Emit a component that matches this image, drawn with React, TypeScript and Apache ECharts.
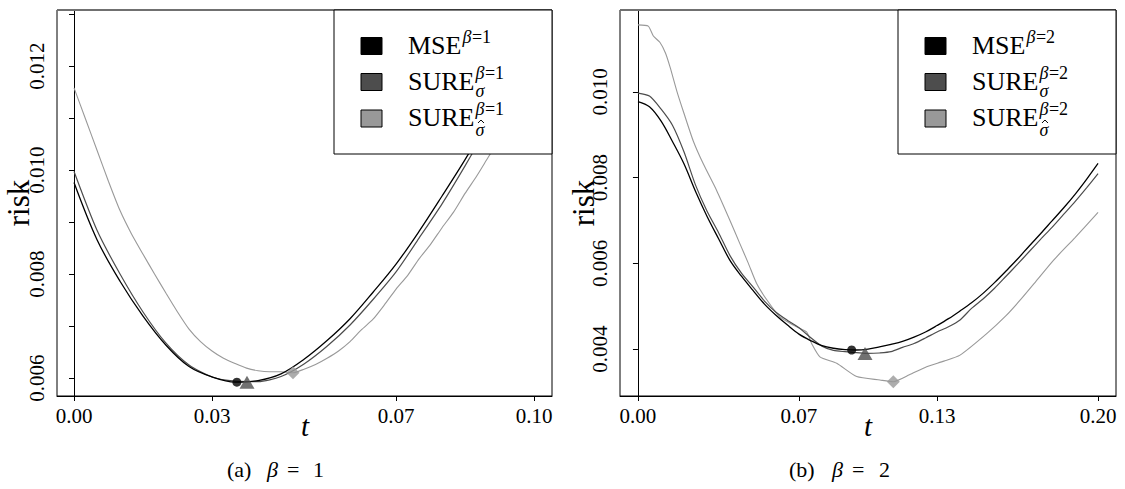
import React, { useEffect, useRef } from "react";
import * as echarts from "echarts";

// ---------- Panel (a): beta = 1 ----------
const T_A = [0, 0.005, 0.01, 0.015, 0.02, 0.025, 0.03, 0.035, 0.04, 0.045, 0.05, 0.055, 0.06, 0.065, 0.07, 0.075, 0.08, 0.085, 0.09, 0.095, 0.1];
const MSE_A = [0.00976, 0.00866, 0.00786, 0.00719, 0.00663, 0.00622, 0.00602, 0.00592, 0.00595, 0.00608, 0.00636, 0.00672, 0.00714, 0.00765, 0.00819, 0.00882, 0.0095, 0.0102, 0.01095, 0.01175, 0.01258];
const SURE_A = [0.00997, 0.00884, 0.008, 0.00727, 0.00667, 0.00625, 0.00602, 0.00594, 0.00593, 0.00603, 0.00627, 0.00661, 0.00702, 0.00751, 0.00804, 0.00869, 0.00935, 0.01008, 0.01085, 0.01165, 0.01248];
const T_HAT_A = [0, 0.0025, 0.005, 0.0075, 0.01, 0.0125, 0.015, 0.0175, 0.02, 0.0225, 0.025, 0.0275, 0.03, 0.0325, 0.035, 0.0375, 0.04, 0.0425, 0.045, 0.0476, 0.05, 0.0525, 0.055, 0.0575, 0.06, 0.0625, 0.065, 0.0675, 0.07, 0.0725, 0.075, 0.0775, 0.08, 0.0825, 0.085, 0.0875, 0.09, 0.095, 0.1];
const SURE_HAT_A = [0.01158, 0.01098, 0.01038, 0.00978, 0.00922, 0.00877, 0.00838, 0.008, 0.00763, 0.00727, 0.00694, 0.0067, 0.00652, 0.00638, 0.00628, 0.00619, 0.00614, 0.00612, 0.00612, 0.0061, 0.00617, 0.00626, 0.00638, 0.00652, 0.0067, 0.00693, 0.00713, 0.00741, 0.00771, 0.00797, 0.00829, 0.00857, 0.00889, 0.00919, 0.00955, 0.00988, 0.01024, 0.01095, 0.0117];
const MIN_A = { mse: [0.0354, 0.00592], sure: [0.0376, 0.00592], hat: [0.0476, 0.0061] };
const XTICKS_A = [0, 0.03, 0.07, 0.1];
const YTICKS_A = [0.006, 0.007, 0.008, 0.009, 0.01, 0.011, 0.012, 0.013];
const YLABELS_A = [0.006, 0.008, 0.01, 0.012];

// ---------- Panel (b): beta = 2 ----------
const T_B = [0, 0.005, 0.01, 0.015, 0.02, 0.025, 0.03, 0.035, 0.04, 0.045, 0.05, 0.055, 0.06, 0.065, 0.07, 0.075, 0.08, 0.085, 0.09, 0.095, 0.1, 0.105, 0.11, 0.115, 0.12, 0.125, 0.13, 0.135, 0.14, 0.145, 0.15, 0.155, 0.16, 0.165, 0.17, 0.175, 0.18, 0.185, 0.19, 0.195, 0.2];
const MSE_B = [0.00977, 0.00965, 0.00932, 0.00884, 0.00832, 0.00768, 0.0071, 0.00658, 0.00607, 0.0057, 0.00537, 0.00505, 0.00479, 0.00456, 0.00435, 0.0042, 0.00408, 0.00402, 0.00399, 0.00398, 0.004, 0.00405, 0.00411, 0.00418, 0.00428, 0.0044, 0.00455, 0.00471, 0.00489, 0.00508, 0.0053, 0.00555, 0.00582, 0.0061, 0.0064, 0.00669, 0.00699, 0.00729, 0.00761, 0.00796, 0.00833];
const SURE_B = [0.00997, 0.0099, 0.0096, 0.00922, 0.0086, 0.00783, 0.00722, 0.00672, 0.00618, 0.00577, 0.00545, 0.00512, 0.00486, 0.00467, 0.0045, 0.00427, 0.00407, 0.00397, 0.00394, 0.00392, 0.0039, 0.00391, 0.00394, 0.00404, 0.00413, 0.00426, 0.0044, 0.00452, 0.00468, 0.00495, 0.00517, 0.00542, 0.0057, 0.00598, 0.00627, 0.00656, 0.00684, 0.00714, 0.00744, 0.00776, 0.00809];
const T_HAT_B = [0, 0.0045, 0.0067, 0.0096, 0.012, 0.014, 0.017, 0.02, 0.024, 0.0284, 0.0342, 0.04, 0.0443, 0.048, 0.0516, 0.056, 0.0617, 0.0675, 0.0733, 0.0755, 0.0791, 0.0864, 0.0951, 0.1052, 0.111, 0.118, 0.1255, 0.133, 0.14, 0.1516, 0.16, 0.1661, 0.173, 0.1806, 0.19, 0.2];
const SURE_HAT_B = [0.01156, 0.01153, 0.0113, 0.01115, 0.0109, 0.01057, 0.01, 0.0095, 0.00886, 0.00832, 0.0077, 0.007, 0.00646, 0.006, 0.00553, 0.00515, 0.00475, 0.00456, 0.0044, 0.00413, 0.00382, 0.00367, 0.00336, 0.00328, 0.00324, 0.0034, 0.00359, 0.00372, 0.00386, 0.00436, 0.00478, 0.00514, 0.00558, 0.00607, 0.0066, 0.00719];
const MIN_B = { mse: [0.0929, 0.00398], sure: [0.0987, 0.0039], hat: [0.111, 0.00324] };
const XTICKS_B = [0, 0.07, 0.13, 0.2];
const YTICKS_B = [0.004, 0.006, 0.008, 0.01];
const YLABELS_B = [0.004, 0.006, 0.008, 0.01];

const COLORS = { mse: "#000000", sure: "#4d4d4d", hat: "#999999" };
const FONT = '"Liberation Serif", "DejaVu Serif", serif';

const zip = (t: number[], v: number[]) => t.map((x, i) => [x, v[i]]);

function measure(text: string, font: string): number {
  const c = document.createElement("canvas").getContext("2d");
  if (!c) return text.length * 12;
  c.font = font;
  return c.measureText(text).width;
}

function txt(x: number, y: number, text: string, size: number, extra: any = {}, rot = 0) {
  return {
    type: "text", z: 101, x, y, rotation: rot,
    style: { text, fontFamily: FONT, fontSize: size, fill: "#000", align: "left", verticalAlign: "middle", ...extra },
  };
}

function legendElements(x0: number, x1: number, beta: string) {
  const els: any[] = [];
  els.push({
    type: "rect", z: 100,
    shape: { x: x0, y: 10, width: x1 - x0, height: 144 },
    style: { fill: "#fff", stroke: "#000", lineWidth: 1 },
  });
  const rows = [
    { name: "MSE", color: COLORS.mse, cy: 46, sub: 0 },
    { name: "SURE", color: COLORS.sure, cy: 82, sub: 1 },
    { name: "SURE", color: COLORS.hat, cy: 118.5, sub: 2 },
  ];
  const SS = 18;
  const betaW = measure("β", `italic ${SS}px ${FONT}`);
  rows.forEach((r) => {
    els.push({
      type: "rect", z: 101,
      shape: { x: x0 + 27, y: r.cy - 8.5, width: 21, height: 17 },
      style: { fill: r.color, stroke: "#000", lineWidth: 1 },
    });
    const tx = x0 + 74;
    els.push(txt(tx, r.cy - 1, r.name, 26));
    const w = measure(r.name, `26px ${FONT}`);
    const sx = tx + w + 1;
    els.push(txt(sx, r.cy - 9.5, "β", SS, { fontStyle: "italic" }));
    els.push(txt(sx + betaW + 0.5, r.cy - 9.5, "=" + beta, SS));
    if (r.sub) {
      const sy = r.cy + (r.sub === 1 ? 8.5 : 11);
      els.push(txt(sx, sy, "σ", SS, { fontStyle: "italic" }));
      if (r.sub === 2) {
        els.push({
          type: "polyline", z: 101,
          shape: { points: [[sx + 2.5, sy - 6.5], [sx + 5.5, sy - 9.5], [sx + 8.5, sy - 6.5]] },
          style: { stroke: "#000", lineWidth: 1, fill: "none" },
        });
      }
    }
  });
  return els;
}

function panel(idx: number, mse: number[][], sure: number[][], hat: number[][], mins: any) {
  return [
    { type: "line", xAxisIndex: idx, yAxisIndex: idx, data: mse, showSymbol: false, smooth: 0.35, lineStyle: { color: COLORS.mse, width: 1.3 }, z: 4 },
    { type: "line", xAxisIndex: idx, yAxisIndex: idx, data: sure, showSymbol: false, smooth: 0.25, lineStyle: { color: COLORS.sure, width: 1.2 }, z: 3 },
    { type: "line", xAxisIndex: idx, yAxisIndex: idx, data: hat, showSymbol: false, smooth: 0.2, lineStyle: { color: COLORS.hat, width: 1.1 }, z: 2 },
    { type: "scatter", xAxisIndex: idx, yAxisIndex: idx, data: [mins.hat], symbol: "diamond", symbolSize: [13, 13], itemStyle: { color: COLORS.hat }, z: 5 },
    { type: "scatter", xAxisIndex: idx, yAxisIndex: idx, data: [mins.sure], symbol: "triangle", symbolSize: [15, 13], itemStyle: { color: COLORS.sure }, z: 6 },
    { type: "scatter", xAxisIndex: idx, yAxisIndex: idx, data: [mins.mse], symbol: "circle", symbolSize: 9, itemStyle: { color: COLORS.mse }, z: 7 },
  ];
}

function xAxis(idx: number, min: number, max: number, ticks: number[]) {
  return {
    type: "value", gridIndex: idx, min, max,
    axisLine: { show: true, onZero: false, lineStyle: { color: "#000", width: 1 } },
    axisTick: { show: true, length: 5, customValues: ticks, lineStyle: { color: "#000" } },
    axisLabel: { customValues: ticks, margin: 9, fontFamily: FONT, fontSize: 21, color: "#000", formatter: (v: number) => v.toFixed(2) },
    splitLine: { show: false },
  };
}

function yAxis(idx: number, min: number, max: number, ticks: number[], labels: number[]) {
  return {
    type: "value", gridIndex: idx, min, max,
    axisLine: { show: true, lineStyle: { color: "#000", width: 1 } },
    axisTick: { show: true, length: 5, customValues: ticks, lineStyle: { color: "#000" } },
    axisLabel: { customValues: labels, rotate: 90, margin: 10, fontFamily: FONT, fontSize: 21, color: "#000", formatter: (v: number) => v.toFixed(3) },
    splitLine: { show: false },
  };
}

function buildOption() {
  const GA = { left: 57, top: 10, width: 495, height: 386 };
  const GB = { left: 620, top: 10, width: 496, height: 386 };
  const graphics: any[] = [
    { type: "line", z: 90, shape: { x1: GA.left, y1: 10, x2: GA.left + GA.width, y2: 10 }, style: { stroke: "#707070", lineWidth: 2 } },
    { type: "line", z: 90, shape: { x1: GB.left, y1: 10, x2: GB.left + GB.width, y2: 10 }, style: { stroke: "#707070", lineWidth: 2 } },
    ...legendElements(334, 552, "1"),
    ...legendElements(898, 1116, "2"),
    txt(18, 203, "risk", 31, { align: "center" }, Math.PI / 2),
    txt(583, 203, "risk", 31, { align: "center" }, Math.PI / 2),
    txt(305, 426, "t", 29, { align: "center", fontStyle: "italic" }),
    txt(868, 426, "t", 29, { align: "center", fontStyle: "italic" }),
    txt(227, 469, "(a)", 22),
    txt(267, 469, "β", 22, { fontStyle: "italic" }),
    txt(287, 469, "=", 22),
    txt(313, 469, "1", 22),
    txt(789, 469, "(b)", 22),
    txt(832, 469, "β", 22, { fontStyle: "italic" }),
    txt(852, 469, "=", 22),
    txt(879, 469, "2", 22),
  ];
  return {
    animation: false,
    backgroundColor: "#fff",
    grid: [
      { ...GA, show: true, borderColor: "#000", borderWidth: 1, backgroundColor: "transparent", containLabel: false },
      { ...GB, show: true, borderColor: "#000", borderWidth: 1, backgroundColor: "transparent", containLabel: false },
    ],
    xAxis: [xAxis(0, -0.0037, 0.1039, XTICKS_A), xAxis(1, -0.0078, 0.2078, XTICKS_B)],
    yAxis: [yAxis(0, 0.005654, 0.013077, YTICKS_A, YLABELS_A), yAxis(1, 0.002907, 0.011907, YTICKS_B, YLABELS_B)],
    series: [
      ...panel(0, zip(T_A, MSE_A), zip(T_A, SURE_A), zip(T_HAT_A, SURE_HAT_A), MIN_A),
      ...panel(1, zip(T_B, MSE_B), zip(T_B, SURE_B), zip(T_HAT_B, SURE_HAT_B), MIN_B),
    ],
    graphic: graphics,
  };
}

export default function App() {
  const ref = useRef<HTMLDivElement>(null);
  useEffect(() => {
    if (!ref.current) return;
    const chart = echarts.init(ref.current, null, { renderer: "svg" });
    chart.setOption(buildOption() as any);
    return () => chart.dispose();
  }, []);
  return <div ref={ref} style={{ position: "fixed", left: 0, top: 0, width: 1125, height: 489, background: "#fff" }} />;
}
